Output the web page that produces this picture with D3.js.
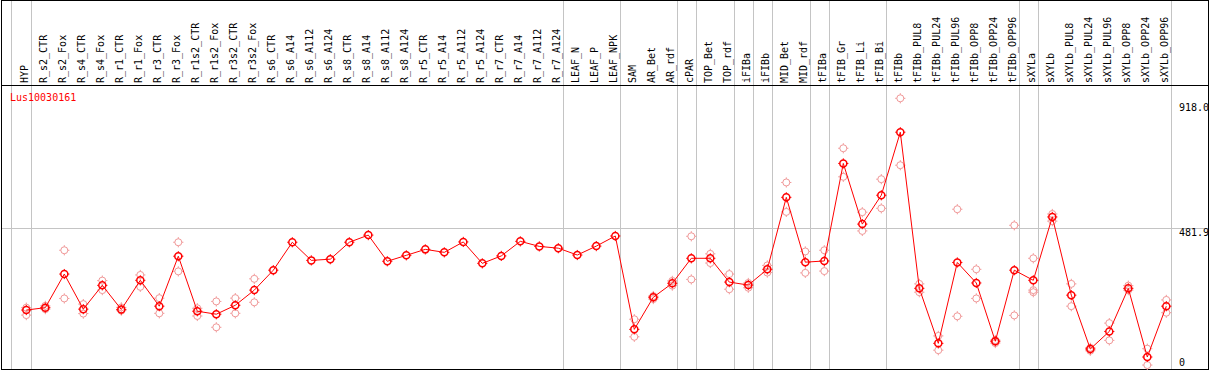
<!DOCTYPE html>
<html><head><meta charset="utf-8">
<script src="https://cdn.jsdelivr.net/npm/d3@7"></script>
<style>body{margin:0;background:#fff}svg{display:block}</style>
</head><body>
<svg id="c" width="1209" height="370"></svg>
<script>
const categories = ["HYP","R_s2_CTR","R_s2_Fox","R_s4_CTR","R_s4_Fox","R_r1_CTR","R_r1_Fox","R_r3_CTR","R_r3_Fox","R_r1s2_CTR","R_r1s2_Fox","R_r3s2_CTR","R_r3s2_Fox","R_s6_CTR","R_s6_A14","R_s6_A112","R_s6_A124","R_s8_CTR","R_s8_A14","R_s8_A112","R_s8_A124","R_r5_CTR","R_r5_A14","R_r5_A112","R_r5_A124","R_r7_CTR","R_r7_A14","R_r7_A112","R_r7_A124","LEAF_N","LEAF_P","LEAF_NPK","SAM","AR_Bet","AR_rdf","cPAR","TOP_Bet","TOP_rdf","iFIBa","iFIBb","MID_Bet","MID_rdf","tFIBa","tFIB_Gr","tFIB_Li","tFIB_Bi","tFIBb","tFIBb_PUL8","tFIBb_PUL24","tFIBb_PUL96","tFIBb_OPP8","tFIBb_OPP24","tFIBb_OPP96","sXYLa","sXYLb","sXYLb_PUL8","sXYLb_PUL24","sXYLb_PUL96","sXYLb_OPP8","sXYLb_OPP24","sXYLb_OPP96"];
const means = [206,214,327,209,289,208,306,219,387,202,192,222,273,340,434,373,377,434,458,370,390,410,400,435,363,388,437,420,414,391,421,455,141,249,296,380,380,300,290,343,585,367,371,699,495,592,804,279,94,366,297,101,340,306,519,256,75,134,279,48,219];
const rep1 = [214,220,407,226,305,215,324,246,434,212,235,246,311,null,null,null,null,null,null,null,null,null,null,null,null,null,null,null,null,null,null,null,175,253,304,454,395,327,297,356,635,403,407,750,535,646,918,294,119,545,343,105,491,380,529,294,79,162,288,76,240];
const rep2 = [189,209,245,194,273,204,284,195,336,186,148,195,232,null,null,null,null,null,null,null,null,null,null,null,null,null,null,null,null,null,null,null,116,243,288,309,364,276,281,332,536,331,337,654,472,548,693,266,71,185,245,95,188,273,505,219,69,104,273,21,197];
const rep3 = [null,null,null,null,null,null,null,null,null,null,null,null,null,null,null,null,null,null,null,null,null,null,null,null,null,null,null,null,null,null,null,null,null,null,null,null,null,null,null,null,null,null,null,null,null,null,null,null,null,null,null,null,null,266,null,null,null,null,null,null,null];
const groupEnds = ["HYP","R_r7_A124","LEAF_NPK","AR_rdf","cPAR","TOP_rdf","iFIBa","iFIBb","MID_rdf","tFIBa","tFIB_Bi","tFIBb_OPP96","sXYLa","sXYLb_OPP96"];
const tickValues = [918, 481.9, 0];
const tickLabels = ["918.0", "481.9", "0"];
const geneName = "Lus10030161";

const W = 1209, H = 370, headerY = 85, bottom = 369, left = 1, right = 1208;
const svg = d3.select("#c");
const FONT = "'DejaVu Sans Mono', monospace";

const x = d3.scalePoint().domain(categories).range([26.3, 1166.3]);
const y = d3.scaleLinear().domain([0, 918]).range([371.3, 98.3]);
const step = x.step();
const crisp = v => Math.round(v) + 0.5;

// group separators (full height)
const sepX = [x(categories[0]) - step + 3.5].concat(groupEnds.map(c => x(c) + 4.5));
svg.selectAll("line.sep").data(sepX).join("line")
  .attr("x1", d => crisp(d)).attr("x2", d => crisp(d))
  .attr("y1", 0).attr("y2", bottom)
  .attr("stroke", "#c4c4c4").attr("stroke-width", 1);

// mid gridline
svg.append("line").attr("x1", left).attr("x2", right)
  .attr("y1", crisp(y(tickValues[1]))).attr("y2", crisp(y(tickValues[1])))
  .attr("stroke", "#c4c4c4").attr("stroke-width", 1);

// frame
svg.append("rect").attr("x", left + 0.5).attr("y", 0.5)
  .attr("width", right - left).attr("height", bottom)
  .attr("fill", "none").attr("stroke", "#000").attr("stroke-width", 1);
svg.append("line").attr("x1", left).attr("x2", right)
  .attr("y1", headerY + 0.5).attr("y2", headerY + 0.5)
  .attr("stroke", "#000").attr("stroke-width", 1);

// header labels
svg.selectAll("text.cat").data(categories).join("text")
  .attr("transform", d => `translate(${x(d) + 2},${headerY - 2}) rotate(-90)`)
  .attr("font-family", FONT).attr("font-size", 10).attr("fill", "#000")
  .text(d => d);

// gene label
svg.append("text").attr("x", 10).attr("y", 101)
  .attr("font-family", FONT).attr("font-size", 10).attr("fill", "#ff0000")
  .text(geneName);

// y tick labels (clamped inside plot)
svg.selectAll("text.tick").data(tickValues).join("text")
  .attr("x", 1179)
  .attr("y", d => Math.min(Math.max(y(d) + 8, headerY + 26), bottom - 3))
  .attr("font-family", FONT).attr("font-size", 10).attr("fill", "#000")
  .text((d, i) => tickLabels[i]);

function marker(g, cx, cy, color, sw) {
  const r = 3.5;
  g.append("circle").attr("cx", cx).attr("cy", cy).attr("r", r)
    .attr("fill", "none").attr("stroke", color).attr("stroke-width", sw);
  [[0,-1],[0,1],[-1,0],[1,0]].forEach(([dx, dy]) => {
    g.append("line")
      .attr("x1", cx + dx * r).attr("y1", cy + dy * r)
      .attr("x2", cx + dx * (r + 1.6)).attr("y2", cy + dy * (r + 1.6))
      .attr("stroke", color).attr("stroke-width", 1);
  });
}

// replicates
const repG = svg.append("g");
[rep1, rep2, rep3].forEach(arr => {
  arr.forEach((v, i) => {
    if (v != null) marker(repG, x(categories[i]), y(v), "#f09898", 1);
  });
});

// mean line
const line = d3.line().x((d, i) => x(categories[i])).y(d => y(d));
svg.append("path").datum(means).attr("d", line)
  .attr("fill", "none").attr("stroke", "#ff0000").attr("stroke-width", 1);

const meanG = svg.append("g");
means.forEach((v, i) => marker(meanG, x(categories[i]), y(v), "#ff0000", 1.5));
</script>
</body></html>
